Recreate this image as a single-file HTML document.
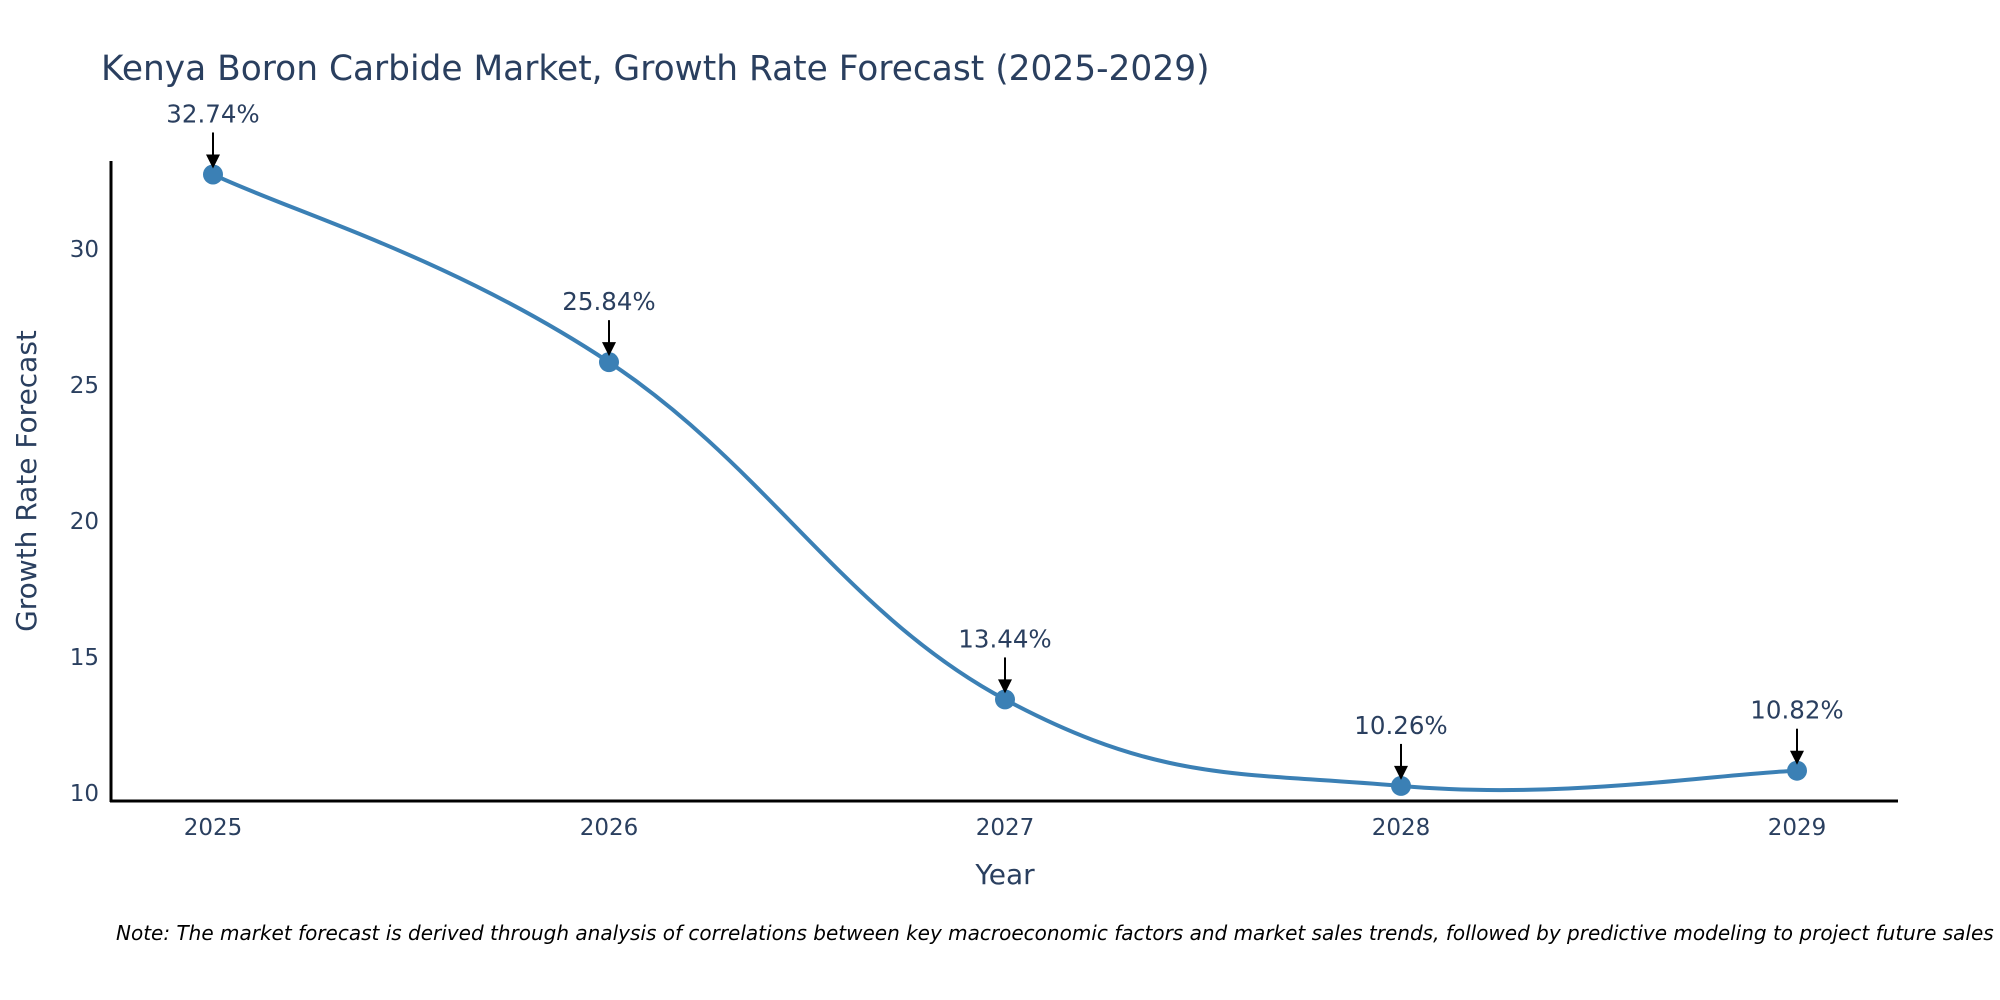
<!DOCTYPE html>
<html><head><meta charset="utf-8"><style>
body{margin:0;background:#fff;}
svg{display:block;font-family:"DejaVu Sans","Liberation Sans",sans-serif;}
</style></head><body>
<svg id="chart" width="2000" height="1000">
<text x="101" y="80" font-size="34.4" fill="#2a3f5f">Kenya Boron Carbide Market, Growth Rate Forecast (2025-2029)</text>
<g id="yticks"></g><g id="xticks"></g>
<line x1="111" y1="161" x2="111" y2="802" stroke="#000" stroke-width="3"/>
<line x1="110" y1="801" x2="1898" y2="801" stroke="#000" stroke-width="3"/>
<text transform="translate(36,481) rotate(-90)" text-anchor="middle" font-size="28" fill="#2a3f5f">Growth Rate Forecast</text>
<text x="1005" y="884" text-anchor="middle" font-size="28" fill="#2a3f5f">Year</text>
<path id="line" fill="none" stroke="#3b80b5" stroke-width="4"/>
<g id="points"></g>
<text x="116" y="940" font-size="20" font-style="italic" fill="#000">Note: The market forecast is derived through analysis of correlations between key macroeconomic factors and market sales trends, followed by predictive modeling to project future sales</text>
</svg>
<script>
const years = ["2025","2026","2027","2028","2029"];
const values = [32.74, 25.84, 13.44, 10.26, 10.82];
const yTicks = [10, 15, 20, 25, 30];
const NS = "http://www.w3.org/2000/svg";
function xs(i){return 213 + i*396;}
function ys(v){return 793 - (v-10)*27.2;}
function mk(tag,attrs,parent){const e=document.createElementNS(NS,tag);for(const k in attrs)e.setAttribute(k,attrs[k]);parent.appendChild(e);return e;}
const yt=document.getElementById('yticks');
yTicks.forEach(t=>{const e=mk('text',{x:99,y:ys(t)+8,'text-anchor':'end','font-size':23,fill:'#2a3f5f'},yt);e.textContent=t;

});
const xt=document.getElementById('xticks');
years.forEach((y,i)=>{const e=mk('text',{x:xs(i),y:835,'text-anchor':'middle','font-size':23,fill:'#2a3f5f'},xt);e.textContent=y;

});
const P=values.map((v,i)=>[xs(i),ys(v)]);
let d=`M${P[0][0]},${P[0][1]}`;
const s=0.2;
for(let i=0;i<P.length-1;i++){
 const p0=P[Math.max(i-1,0)],p1=P[i],p2=P[i+1],p3=P[Math.min(i+2,P.length-1)];
 const c1=[p1[0]+(p2[0]-p0[0])*s,p1[1]+(p2[1]-p0[1])*s];
 const c2=[p2[0]-(p3[0]-p1[0])*s,p2[1]-(p3[1]-p1[1])*s];
 d+=` C${c1[0]},${c1[1]} ${c2[0]},${c2[1]} ${p2[0]},${p2[1]}`;
}
document.getElementById('line').setAttribute('d',d);
const pg=document.getElementById('points');
values.forEach((v,i)=>{
 const x=xs(i),y=ys(v);
 const c=mk('circle',{cx:x,cy:y,r:10,fill:'#3b80b5'},pg);
 
 
 const l=mk('line',{x1:x,y1:y-42,x2:x,y2:y-18,stroke:'#000','stroke-width':2},pg);
 
 
 const a=mk('path',{d:`M${x-7},${y-20} L${x+7},${y-20} L${x},${y-6} Z`,fill:'#000'},pg);
 
 
 const t=mk('text',{x:x,y:y-52,'text-anchor':'middle','font-size':24.5,fill:'#2a3f5f'},pg);
 t.textContent=v.toFixed(2)+'%';
 
 
});
</script>
</body></html>
